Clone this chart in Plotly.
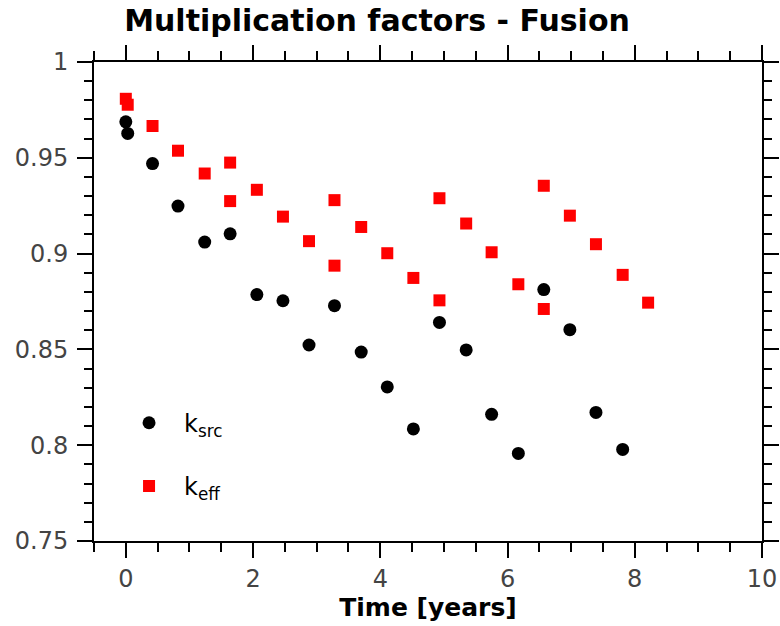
import plotly.graph_objects as go

# k_src (black circles)
src_time = [0.0, 0.03, 0.42, 0.82, 1.24, 1.64, 2.06, 2.47, 2.88, 3.28, 3.70,
            4.11, 4.52, 4.93, 5.35, 5.75, 6.17, 6.57, 6.98, 7.39, 7.81]
src_k = [0.9688, 0.9627, 0.9470, 0.9248, 0.9060, 0.9103, 0.8786, 0.8754, 0.8523,
         0.8728, 0.8486, 0.8304, 0.8085, 0.8641, 0.8497, 0.8161, 0.7957, 0.8812,
         0.8603, 0.8171, 0.7978]

# k_eff (red squares)
eff_time = [0.0, 0.03, 0.42, 0.82, 1.24, 1.64, 1.64, 2.06, 2.47, 2.88, 3.28, 3.28,
            3.70, 4.11, 4.52, 4.93, 4.93, 5.35, 5.75, 6.17, 6.57, 6.57, 6.98, 7.39,
            7.81, 8.21]
eff_k = [0.9808, 0.9777, 0.9666, 0.9537, 0.9418, 0.9475, 0.9274, 0.9333, 0.9193,
         0.9065, 0.9279, 0.8937, 0.9139, 0.9002, 0.8873, 0.9289, 0.8756, 0.9157,
         0.9007, 0.8840, 0.9354, 0.8711, 0.9198, 0.9049, 0.8889, 0.8744]

x_ticks = [0, 2, 4, 6, 8, 10]
y_ticks = [0.75, 0.8, 0.85, 0.9, 0.95, 1.0]
y_tick_labels = ["0.75", "0.8", "0.85", "0.9", "0.95", "1"]

FONT = "DejaVu Sans"

fig = go.Figure()
fig.add_trace(go.Scatter(
    x=src_time, y=src_k, mode="markers", name="k<sub>src</sub>",
    legendgroup="a",
    marker=dict(symbol="circle", size=13, color="black"),
))
fig.add_trace(go.Scatter(
    x=eff_time, y=eff_k, mode="markers", name="k<sub>eff</sub>",
    legendgroup="b",
    marker=dict(symbol="square", size=12, color="#ff0000"),
))

axis_common = dict(
    showline=True, linecolor="black", linewidth=2, mirror="allticks",
    ticks="outside", ticklen=15, tickwidth=2, tickcolor="black",
    showgrid=False, zeroline=False, automargin=False,
    tickfont=dict(family=FONT, size=24, color="#444444"),
)

fig.update_xaxes(
    range=[-0.5, 10], tickvals=x_ticks,
    minor=dict(dtick=0.5, ticks="outside", ticklen=9, tickwidth=2, tickcolor="black", showgrid=False),
    title=dict(text="<b>Time [years]</b>", font=dict(family=FONT, size=25, color="black"), standoff=4),
    **axis_common,
)
fig.update_yaxes(
    range=[0.75, 1.0], tickvals=y_ticks, ticktext=y_tick_labels,
    minor=dict(dtick=0.01, ticks="outside", ticklen=8, tickwidth=2, tickcolor="black", showgrid=False),
    ticklabelstandoff=4,
    **axis_common,
)

fig.update_layout(
    width=780, height=626,
    margin=dict(l=94, r=18, t=62, b=85),
    paper_bgcolor="white", plot_bgcolor="white",
    title=dict(text="<b>Multiplication factors - Fusion</b>", x=377/780, xref="container",
               xanchor="center", y=1 - 20/626, yref="container", yanchor="middle",
               font=dict(family=FONT, size=30, color="black")),
    showlegend=True,
    legend=dict(x=0.030, y=0.293, xanchor="left", yanchor="top", itemwidth=60,
                bgcolor="rgba(0,0,0,0)", traceorder="grouped", tracegroupgap=29,
                font=dict(family=FONT, size=24, color="black")),
)

fig.write_html("out.html")
